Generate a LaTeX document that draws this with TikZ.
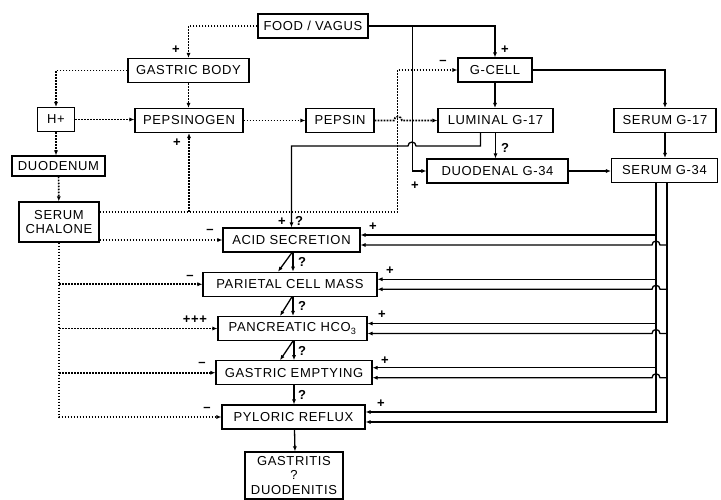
\documentclass[tikz,border=0pt]{standalone}
\usepackage{fontspec}
\setmainfont{Liberation Sans}[LetterSpace=5]
\usetikzlibrary{arrows.meta,positioning}

\begin{document}
\begin{tikzpicture}[x=1pt, y=-1pt, node distance=44.25pt, line width=1.3pt,
  >={Latex[length=5pt,width=4pt]},
  box/.style={draw, line width=1.1pt, minimum height=24pt, inner sep=2pt, font=\fontsize{13}{14.5}\selectfont},
  dotty/.style={line width=1.7pt, dash pattern=on 1.7pt off 1.3pt},
  sign/.style={inner sep=0pt, font=\bfseries\fontsize{13}{13}\selectfont}]
\useasboundingbox (0,0) rectangle (721,500);
% Define the nodes
\node (food) [box, minimum width=110pt] at (313,26) {FOOD / VAGUS};
\node (gbody) [box, minimum width=121pt] at (188.5,70.5) {GASTRIC BODY};
\node (gcell) [box, minimum width=74pt] at (495,70) {G-CELL};
\node (hplus) [box, minimum width=37pt] at (56,119.5) {H+};
\node (pepsinogen) [box, minimum width=108pt] at (189,120.5) {PEPSINOGEN};
\node (pepsin) [box, minimum width=68pt] at (340,120.5) {PEPSIN};
\node (luminal) [box, minimum width=115pt] at (495.5,120.5) {LUMINAL G-17};
\node (serum17) [box, minimum width=102pt] at (665,120.5) {SERUM G-17};
\node (duodenum) [box, minimum width=93pt, minimum height=20pt] at (58.5,166) {DUODENUM};
\node (duodenal) [box, minimum width=141pt] at (497.5,171) {DUODENAL G-34};
\node (serum34) [box, minimum width=106pt] at (664.5,170.5) {SERUM G-34};
\node (chalone) [box, minimum width=80pt, minimum height=40pt, align=center] at (59,222) {SERUM\\CHALONE};
\node (acid) [box, minimum width=137pt] at (291.5,240) {ACID SECRETION};
\node (parietal) [box, minimum width=174pt, below of=acid, xshift=-1.5pt] {PARIETAL CELL MASS};
\node (pancreatic) [box, minimum width=149pt, below of=parietal, xshift=2.5pt] {PANCREATIC HCO\textsubscript{3}};
\node (emptying) [box, minimum width=156pt, below of=pancreatic, xshift=1.5pt] {GASTRIC EMPTYING};
\node (pyloric) [box, minimum width=143pt, below of=emptying, xshift=-0.5pt] {PYLORIC REFLUX};
\node (gastritis) [box, minimum width=98pt, minimum height=47pt, align=center, node distance=58.5pt, below of=pyloric, xshift=0.5pt] {GASTRITIS\\?\\DUODENITIS};

\coordinate (fork) at ([xshift=44pt]food.east);
\coordinate (chaout) at ([yshift=10pt]chalone.east);
\coordinate (inner) at ([xshift=-8.5pt]serum34.south);
\coordinate (outer) at ([xshift=2.5pt]serum34.south);
\coordinate (acidhi) at ([yshift=5pt]acid.east);
\coordinate (acidlo) at ([yshift=-5pt]acid.east);
\coordinate (parhi) at ([yshift=5pt]parietal.east);
\coordinate (parlo) at ([yshift=-5pt]parietal.east);
\coordinate (panhi) at ([yshift=5pt]pancreatic.east);
\coordinate (panlo) at ([yshift=-5pt]pancreatic.east);
\coordinate (emphi) at ([yshift=5pt]emptying.east);
\coordinate (emplo) at ([yshift=-5pt]emptying.east);

% Food / vagus and the gastric body
\draw[dotty, ->] (food.west) -| (gbody.north);
\draw[->] (food.east) -| (gcell.north);
\draw[->] (fork) |- (duodenal.west);
\draw[dotty, ->] (gbody.south) -- (gbody.south |- pepsinogen.north);
\draw[dotty, ->] (gbody.west) -| (hplus.north);
\draw[dotty, ->] (hplus.east) -- (hplus.east -| pepsinogen.west);
\draw[dotty, ->] (hplus.south) -- (hplus.south |- duodenum.north);
\draw[dotty, ->] (duodenum) -- (chalone);
\draw[dotty, ->] (pepsinogen) -- (pepsin);
\draw[dotty, ->] (pepsin.east) -- (394,120.5) arc[start angle=180, end angle=360, radius=4] -- (luminal.west);

% Gastrin
\draw[->] (gcell.south) -- (gcell.south |- luminal.north);
\draw[->] (gcell.east) -| (serum17.north);
\draw[->] (serum17.south) -- (serum17.south |- serum34.north);
\draw[->] (luminal.south) -- (luminal.south |- duodenal.north);
\draw[->] (duodenal.east) -- (duodenal.east -| serum34.west);
\draw[->] ([xshift=-15pt]luminal.south) |- (416,146) arc[start angle=0, end angle=-180, radius=4] -| (acid.north);

% Serum chalone
\draw[dotty, ->] (chaout) -| ([xshift=-60pt]gcell.west) -- (gcell.west);
\draw[dotty, ->] (pepsinogen.south |- chaout) -- (pepsinogen.south);
\draw[dotty, ->] (chalone.east |- acid.west) -- (acid.west);
\draw[dotty, ->] (chalone.south) |- (pyloric.west);
\draw[dotty, ->] (chalone.south |- parietal.west) -- (parietal.west);
\draw[dotty, ->] (chalone.south |- pancreatic.west) -- (pancreatic.west);
\draw[dotty, ->] (chalone.south |- emptying.west) -- (emptying.west);

% Down the chain
\draw[->] ([xshift=1.5pt]acid.south) -- ([xshift=3pt]parietal.north);
\draw[->] ([xshift=0.5pt]acid.south) -- ([xshift=-12pt]parietal.north);
\draw[->] ([xshift=3pt]parietal.south) -- ([xshift=0.5pt]pancreatic.north);
\draw[->] ([xshift=2pt]parietal.south) -- ([xshift=-12.5pt]pancreatic.north);
\draw[->] ([xshift=1.5pt]pancreatic.south) -- (emptying.north);
\draw[->] ([xshift=0.5pt]pancreatic.south) -- ([xshift=-14pt]emptying.north);
\draw[->] (emptying.south) -- ([xshift=0.5pt]pyloric.north);
\draw[->] ([xshift=1pt]pyloric.south) -- ([xshift=1pt]gastritis.north);

% Serum G-34 feeds
\draw[->] (inner) |- ([yshift=5pt]pyloric.east);
\draw[->] (inner |- acidhi) -- (acidhi);
\draw[->] (inner |- parhi) -- (parhi);
\draw[->] (inner |- panhi) -- (panhi);
\draw[->] (inner |- emphi) -- (emphi);
\draw[->] (outer) |- ([yshift=-5pt]pyloric.east);
\draw[->] (outer |- acidlo) -- (660,245) arc[start angle=0, end angle=-180, radius=4] -- (acidlo);
\draw[->] (outer |- parlo) -- (660,289.25) arc[start angle=0, end angle=-180, radius=4] -- (parlo);
\draw[->] (outer |- panlo) -- (660,333.5) arc[start angle=0, end angle=-180, radius=4] -- (panlo);
\draw[->] (outer |- emplo) -- (660,377.75) arc[start angle=0, end angle=-180, radius=4] -- (emplo);

% Signs
\node (plusgb) [sign] at (176,50) {+};
\node (pluspep) [sign] at (177,143) {+};
\node (plusgc) [sign] at (505,50) {+};
\node (minusgc) [sign] at (443,62) {--};
\node (qlum) [sign] at (505,148) {?};
\node (plusduo) [sign] at (415,186) {+};
\node (plusacid) [sign] at (282,222) {+};
\node (qacid) [sign] at (299,221) {?};
\node (minusacid) [sign] at (210,231) {--};
\node (minuspar) [sign] at (190,277) {--};
\node (pluspan) [sign] at (195,320) {+++};
\node (minusemp) [sign] at (202,364) {--};
\node (minuspyl) [sign] at (207,409) {--};
\node (qpar) [sign] at (302,262) {?};
\node (qpan) [sign] at (302,306) {?};
\node (qemp) [sign] at (302,351) {?};
\node (qpyl) [sign] at (302,395) {?};
\node (racid) [sign] at (373,227) {+};
\node (rpar) [sign] at (390,271) {+};
\node (rpan) [sign] at (382,315) {+};
\node (remp) [sign] at (385,361) {+};
\node (rpyl) [sign] at (381,404) {+};
\end{tikzpicture}
\end{document}
